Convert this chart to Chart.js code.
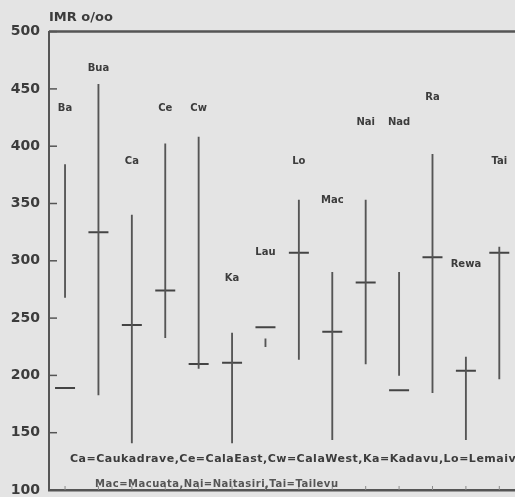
<!DOCTYPE html>
<html>
<head>
<meta charset="utf-8">
<script src="https://cdn.jsdelivr.net/npm/chart.js@4.4.0/dist/chart.umd.min.js"></script>
<style>
  html, body { margin: 0; padding: 0; background: #e4e4e4; }
</style>
</head>
<body>
<canvas id="chart" width="515" height="497"></canvas>
<script>
const districts = ['Ba', 'Bua', 'Ca', 'Ce', 'Cw', 'Ka', 'Lau', 'Lo', 'Mac', 'Nai', 'Nad', 'Ra', 'Rewa', 'Tai']
const imrMean = [189, 325, 244, 274, 210, 211, 242, 307, 238, 281, 187, 303, 204, 307]
const imrHigh = [384, 454, 340, 402, 408, 237, 232, 353, 290, 353, 290, 393, 216, 312]
const imrLow = [268, 183, 141, 233, 206, 141, 225, 214, 144, 210, 200, 185, 144, 197]
// height (in IMR units) where each district code is written
const labelLevel = [433, 468, 387, 433, 433, 285, 307, 387, 353, 421, 421, 443, 297, 387]
const yTicks = [100, 150, 200, 250, 300, 350, 400, 450, 500]
const legendLines = [
  'Ca=Caukadrave,Ce=CalaEast,Cw=CalaWest,Ka=Kadavu,Lo=Lemaiviti',
  'Mac=Macuata,Nai=Naitasiri,Tai=Tailevu'
]

const FONT = 'DejaVu Sans'
const INK = '#3c3c3c'
const LINE = '#555555'

const decor = {
  id: 'decor',
  beforeDraw (chart) {
    const ctx = chart.ctx
    ctx.save()
    ctx.fillStyle = '#e4e4e4'
    ctx.fillRect(0, 0, chart.width, chart.height)
    ctx.restore()
  },
  afterDraw (chart) {
    const { ctx, chartArea } = chart
    const x = chart.scales.x
    const y = chart.scales.y
    ctx.save()

    // frame line along the top
    ctx.strokeStyle = LINE
    ctx.lineWidth = 2.5
    ctx.beginPath()
    ctx.moveTo(chartArea.left, chartArea.top)
    ctx.lineTo(chartArea.right, chartArea.top)
    ctx.stroke()

    // short tick dashes inside the y axis
    ctx.lineWidth = 1.5
    yTicks.forEach(v => {
      const py = y.getPixelForValue(v)
      ctx.beginPath()
      ctx.moveTo(chartArea.left, py)
      ctx.lineTo(chartArea.left + 8, py)
      ctx.stroke()
    })

    // little marks on the x axis
    ctx.strokeStyle = '#8a8a8a'
    ctx.lineWidth = 1
    districts.forEach((d, i) => {
      const px = x.getPixelForValue(i)
      ctx.beginPath()
      ctx.moveTo(px, chartArea.bottom)
      ctx.lineTo(px, chartArea.bottom - 4)
      ctx.stroke()
    })

    // district codes
    ctx.fillStyle = INK
    ctx.font = 'bold 10px "' + FONT + '"'
    ctx.textAlign = 'center'
    ctx.textBaseline = 'middle'
    districts.forEach((d, i) => {
      ctx.fillText(d, x.getPixelForValue(i), y.getPixelForValue(labelLevel[i]))
    })

    // key to the codes
    ctx.textAlign = 'left'
    ctx.letterSpacing = '0.5px'
    ctx.font = 'bold 11px "' + FONT + '"'
    ctx.fillText(legendLines[0], chartArea.left + 21, chartArea.bottom - 31)
    ctx.font = 'bold 10px "' + FONT + '"'
    ctx.fillStyle = '#555555'
    ctx.fillText(legendLines[1], chartArea.left + 46, chartArea.bottom - 6)

    ctx.restore()
  }
}

new Chart(document.getElementById('chart'), {
  type: 'bar',
  data: {
    datasets: [
      {
        label: 'range',
        data: districts.map((d, i) => ({ x: i, y: [imrLow[i], imrHigh[i]] })),
        backgroundColor: LINE,
        barThickness: 1.2
      },
      {
        type: 'scatter',
        label: 'mean',
        data: districts.map((d, i) => ({ x: i, y: imrMean[i] })),
        pointStyle: 'line',
        pointRadius: 10,
        borderColor: '#444444',
        borderWidth: 2
      }
    ]
  },
  options: {
    responsive: false,
    animation: false,
    devicePixelRatio: 1,
    layout: { autoPadding: false, padding: 0 },
    plugins: {
      legend: { display: false },
      tooltip: { enabled: false },
      title: {
        display: true,
        text: 'IMR o/oo',
        align: 'start',
        fullSize: false,
        color: INK,
        font: { family: FONT, size: 13, weight: 'bold' },
        padding: { top: 10, bottom: 6 }
      }
    },
    scales: {
      x: {
        type: 'linear',
        offset: false,
        min: -0.48,
        max: 13.47,
        ticks: { display: false },
        grid: { color: 'transparent', drawOnChartArea: false, drawTicks: false, offset: false },
        border: { color: LINE, width: 2.5 },
        afterFit (s) { s.height = 7 }
      },
      y: {
        min: 100,
        max: 500,
        afterBuildTicks (s) { s.ticks = yTicks.map(v => ({ value: v })) },
        ticks: {
          color: INK,
          padding: 9,
          font: { family: FONT, size: 14, weight: 'bold' }
        },
        grid: { color: 'transparent', drawOnChartArea: false, drawTicks: false },
        border: { color: LINE, width: 2 },
        afterFit (s) {
          s.width = 49
          s.paddingTop = 0
          s.paddingBottom = 0
        }
      }
    }
  },
  plugins: [decor]
})
</script>
</body>
</html>
